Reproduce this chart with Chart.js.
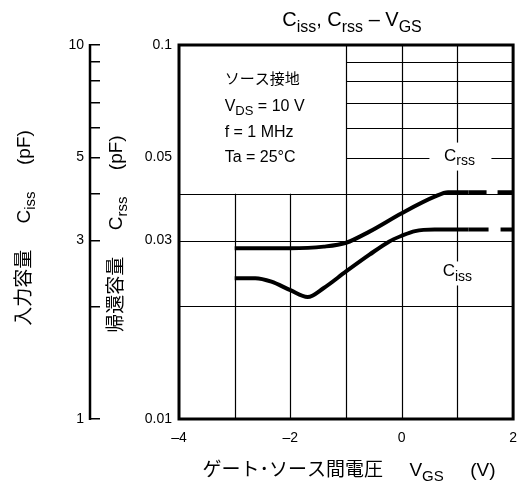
<!DOCTYPE html>
<html>
<head>
<meta charset="utf-8">
<script src="https://cdn.jsdelivr.net/npm/chart.js@4/dist/chart.umd.min.js"></script>
<style>
  html, body { margin: 0; padding: 0; background: #fff; }
</style>
</head>
<body>
<canvas id="chart" width="528" height="491"></canvas>
<script>
// axis ticks
var vgsTicks = [-4, -2, 0, 2];
var crssTicks = [0.01, 0.03, 0.05, 0.1];
var cissTicks = [1, 3, 5, 10];
var cissMinor = [1, 2, 3, 4, 5, 6, 7, 8, 9, 10];

// grid lines (partial grid like the datasheet)
var gridVgsFull = [-1, 0, 1];
var gridVgsShort = [-3, -2];
var gridCrssFull = [0.02, 0.03, 0.04];
var gridCrssShort = [0.05, 0.06, 0.07, 0.08, 0.09];

// curves
var crssVgs = [-3, -2, -1.4, -1, -0.58, 0, 0.59, 0.83, 1.2, 2];
var crssVal = [0.0286, 0.0286, 0.0289, 0.0296, 0.0317, 0.0355, 0.0393, 0.0404, 0.0404, 0.0404];
var cissVgs = [-3, -2.63, -2.34, -2, -1.69, -1.4, -1, -0.58, -0.23, 0, 0.24, 0.59, 1.2, 2];
var cissVal = [2.38, 2.38, 2.33, 2.21, 2.12, 2.24, 2.48, 2.75, 2.98, 3.09, 3.18, 3.21, 3.21, 3.21];

var FONT = '"Liberation Sans", "Noto Sans CJK JP", sans-serif';

function pts(xs, ys) {
    return xs.map(function (v, i) { return { x: v, y: ys[i] }; });
}

// text with subscripts: parts = [[text, isSub], ...]
function rich(ctx, parts, x, y, size, align) {
    var subSize = Math.round(size * 0.8);
    var w = 0, ws = [];
    parts.forEach(function (p) {
        ctx.font = (p[1] ? subSize : size) + 'px ' + FONT;
        var m = ctx.measureText(p[0]).width;
        ws.push(m); w += m;
    });
    var cx = align === 'center' ? x - w / 2 : (align === 'right' ? x - w : x);
    ctx.textAlign = 'left';
    ctx.textBaseline = 'alphabetic';
    parts.forEach(function (p, i) {
        ctx.font = (p[1] ? subSize : size) + 'px ' + FONT;
        ctx.fillText(p[0], cx, p[1] ? y + size * 0.28 : y);
        cx += ws[i];
    });
    return w;
}

var extras = {
    id: 'extras',
    beforeDatasetsDraw: function (chart) {
        var ctx = chart.ctx, x = chart.scales.x, y = chart.scales.y;
        ctx.save();
        ctx.strokeStyle = '#000';
        ctx.lineWidth = 1.2;
        ctx.beginPath();
        gridVgsFull.forEach(function (v) {
            var px = Math.round(x.getPixelForValue(v)) + 0.5;
            ctx.moveTo(px, y.bottom); ctx.lineTo(px, y.top);
        });
        gridVgsShort.forEach(function (v) {
            var px = Math.round(x.getPixelForValue(v)) + 0.5;
            ctx.moveTo(px, y.bottom); ctx.lineTo(px, y.getPixelForValue(0.04));
        });
        gridCrssFull.forEach(function (v) {
            var py = Math.round(y.getPixelForValue(v)) + 0.5;
            ctx.moveTo(x.left, py); ctx.lineTo(x.right, py);
        });
        gridCrssShort.forEach(function (v) {
            var py = Math.round(y.getPixelForValue(v)) + 0.5;
            ctx.moveTo(x.getPixelForValue(-1), py); ctx.lineTo(x.right, py);
        });
        ctx.stroke();

        // curve labels on white
        ctx.fillStyle = '#fff';
        var lx = x.getPixelForValue(1);
        var ly = y.getPixelForValue(0.05);
        ctx.fillRect(lx - 28, ly - 15, 62, 28);
        var cy = y.getPixelForValue(0.0245);
        ctx.fillRect(lx - 19, cy - 12, 38, 24);
        ctx.fillStyle = '#000';
        rich(ctx, [['C', false], ['rss', true]], lx + 2, ly + 3, 17, 'center');
        rich(ctx, [['C', false], ['iss', true]], lx, cy + 3, 17, 'center');
        ctx.restore();
    },
    afterDraw: function (chart) {
        var ctx = chart.ctx, x = chart.scales.x, y = chart.scales.y, yc = chart.scales.yCiss;
        var a = chart.chartArea;
        ctx.save();
        ctx.strokeStyle = '#000';
        // frame
        ctx.lineWidth = 3;
        ctx.strokeRect(a.left, a.top, a.right - a.left, a.bottom - a.top);
        // Ciss axis line
        var ax = yc.right - yc.options.grid.tickLength;
        ctx.lineWidth = 2.5;
        ctx.beginPath();
        ctx.moveTo(ax, yc.getPixelForValue(10) - 1);
        ctx.lineTo(ax, yc.getPixelForValue(1) + 1);
        ctx.stroke();

        ctx.fillStyle = '#000';
        // title
        rich(ctx, [['C', false], ['iss', true], [', C', false], ['rss', true], [' \u2013 V', false], ['GS', true]],
            352, 26, 20, 'center');
        // condition box
        var tx = x.getPixelForValue(-3) - 10;
        rich(ctx, [['ソース接地', false]], tx, 84, 15, 'left');
        rich(ctx, [['V', false], ['DS', true], [' = 10 V', false]], tx, 111, 16, 'left');
        rich(ctx, [['f = 1 MHz', false]], tx, 137, 16, 'left');
        rich(ctx, [['Ta = 25°C', false]], tx, 162, 16, 'left');
        // x title
        rich(ctx, [['ゲート･ソース間電圧     V', false], ['GS', true], ['     (V)', false]],
            349, 476, 19, 'center');
        // y titles (rotated)
        ctx.save();
        ctx.translate(23, 228);
        ctx.rotate(-Math.PI / 2);
        rich(ctx, [['入力容量     C', false], ['iss', true], ['     (pF)', false]], 0, 7, 19, 'center');
        ctx.restore();
        ctx.save();
        ctx.translate(115, 234);
        ctx.rotate(-Math.PI / 2);
        rich(ctx, [['帰還容量     C', false], ['rss', true], ['     (pF)', false]], 0, 7, 19, 'center');
        ctx.restore();
        ctx.restore();
    }
};

new Chart(document.getElementById('chart'), {
    type: 'line',
    data: {
        datasets: [{
            label: 'Crss',
            data: pts(crssVgs, crssVal),
            yAxisID: 'y',
            borderColor: '#000',
            borderWidth: 4,
            pointRadius: 0,
            cubicInterpolationMode: 'monotone',
            segment: {
                borderDash: function (c) { return c.p0.parsed.x >= 1.2 ? [18, 11] : undefined; }
            }
        }, {
            label: 'Ciss',
            data: pts(cissVgs, cissVal),
            yAxisID: 'yCiss',
            borderColor: '#000',
            borderWidth: 4,
            pointRadius: 0,
            cubicInterpolationMode: 'monotone',
            segment: {
                borderDash: function (c) { return c.p0.parsed.x >= 1.2 ? [20, 12] : undefined; }
            }
        }]
    },
    options: {
        responsive: false,
        animation: false,
        devicePixelRatio: 1,
        layout: { padding: { left: 40, right: 8, top: 45, bottom: 0 } },
        plugins: { legend: { display: false }, tooltip: { enabled: false } },
        scales: {
            x: {
                type: 'linear',
                min: -4, max: 2,
                grid: { display: false, drawTicks: false },
                border: { display: false },
                ticks: {
                    stepSize: 1,
                    autoSkip: false,
                    maxRotation: 0,
                    padding: 11,
                    color: '#000',
                    font: { family: FONT, size: 14 },
                    callback: function (v) {
                        if (vgsTicks.indexOf(v) < 0) return '';
                        return v < 0 ? '\u2013' + Math.abs(v) : String(v);
                    }
                },
                afterFit: function (s) { s.height = 72; }
            },
            y: {
                type: 'logarithmic',
                position: 'left',
                weight: 0,
                min: 0.01, max: 0.1,
                grid: { display: false, drawTicks: false },
                border: { display: false },
                afterBuildTicks: function (s) { s.ticks = crssTicks.map(function (v) { return { value: v }; }); },
                ticks: {
                    autoSkip: false,
                    padding: 7,
                    color: '#000',
                    font: { family: FONT, size: 14 },
                    callback: function (v) { return String(v); }
                },
                afterFit: function (s) { s.width = 79; }
            },
            yCiss: {
                type: 'logarithmic',
                position: 'left',
                weight: 1,
                min: 1, max: 10,
                grid: { drawOnChartArea: false, drawTicks: true, tickLength: 10, color: '#000', lineWidth: 1.5 },
                border: { display: false },
                afterBuildTicks: function (s) { s.ticks = cissMinor.map(function (v) { return { value: v }; }); },
                ticks: {
                    autoSkip: false,
                    padding: 6,
                    color: '#000',
                    font: { family: FONT, size: 14 },
                    callback: function (v) { return cissTicks.indexOf(v) >= 0 ? String(v) : ''; }
                },
                afterFit: function (s) { s.width = 60; }
            }
        }
    },
    plugins: [extras]
});
</script>
</body>
</html>
